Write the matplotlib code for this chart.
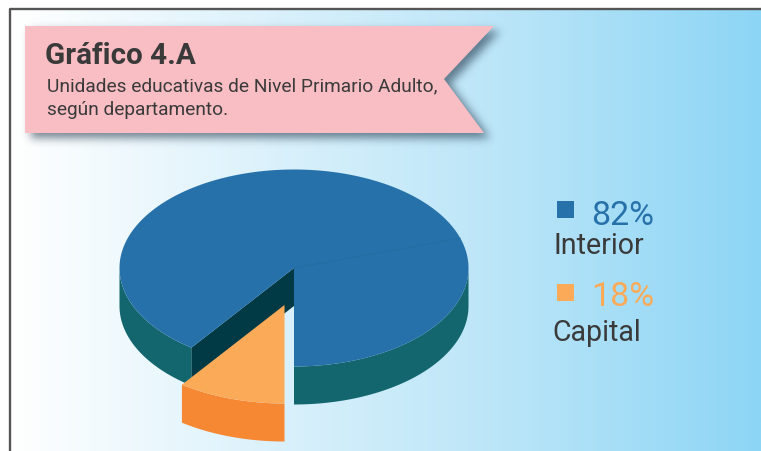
"""
Gráfico 4.A: pseudo 3D pie of primary adult schools, capital vs interior.
"""

import matplotlib

matplotlib.use("Agg")

import matplotlib.pyplot as plt
import numpy as np
from matplotlib.patches import Polygon, Rectangle
from matplotlib.path import Path

plt.rcParams["font.family"] = ["Roboto", "DejaVu Sans"]

# what the chart says
TITLE = "Gráfico 4.A"
SUBTITLE = ["Unidades educativas de Nivel Primario Adulto,", "según departamento."]
labels = ["Interior", "Capital"]
percents = [82, 18]

# how the picture really draws the slices, degrees on the ellipse, from the bottom
slice_spans = [107.6, 216.4, 36.0]

BLUE = "#2771aa"
BLUE_SIDE = "#13666e"
BLUE_INNER = "#013a45"
ORANGE = "#fbaa57"
ORANGE_SIDE = "#f68833"
TEXT = "#3a3a3a"

CX, CY = 294, 269
RX, RY = 174.5, 98.5
DEPTH = 38
EXPLODE = (-9.5, 37)


def rim(t0, t1, dx=0.0, dy=0.0, n=120):
    """Points along the ellipse, angle counter clockwise in degrees."""
    t = np.radians(np.linspace(t0, t1, n))
    return np.column_stack([CX + dx + RX * np.cos(t), CY + dy - RY * np.sin(t)])


def add_shadow(ax, pts, offset=(6, 5), sigma=4.5, color=(0.12, 0.2, 0.28), strength=0.6):
    """Blurred drop shadow: rasterise the polygon and smooth it by hand."""
    x0, x1, y0, y1 = 0, 560, 0, 180
    xx, yy = np.meshgrid(np.arange(x0, x1) + 0.5, np.arange(y0, y1) + 0.5)
    shifted = np.asarray(pts, dtype=float) + offset
    mask = Path(shifted).contains_points(np.column_stack([xx.ravel(), yy.ravel()]))
    mask = mask.reshape(xx.shape).astype(float)

    r = int(3 * sigma)
    kernel = np.exp(-0.5 * (np.arange(-r, r + 1) / sigma) ** 2)
    kernel /= kernel.sum()
    mask = np.apply_along_axis(lambda v: np.convolve(v, kernel, mode="same"), 0, mask)
    mask = np.apply_along_axis(lambda v: np.convolve(v, kernel, mode="same"), 1, mask)

    rgba = np.zeros(mask.shape + (4,))
    rgba[..., :3] = color
    rgba[..., 3] = mask * strength
    ax.imshow(rgba, extent=[x0, x1, y1, y0], aspect="auto", interpolation="bilinear", zorder=2)


def draw_pie(ax):
    start = 270.0
    seam = start + slice_spans[0]
    blue_end = seam + slice_spans[1]
    orange_end = blue_end + slice_spans[2]
    cut = blue_end - 360

    # outer wall of the blue part, only the front half is visible
    for t0, t1 in [(start, 360.0), (180.0, cut)]:
        top = rim(t0, t1)
        low = rim(t1, t0, dy=DEPTH)
        ax.add_patch(Polygon(np.vstack([top, low]), facecolor=BLUE_SIDE, edgecolor="none", zorder=3))

    # inner wall at the cut
    a = rim(cut, cut, n=1)[0]
    ax.add_patch(Polygon([(CX, CY), a, a + (0, DEPTH), (CX, CY + DEPTH)],
                         facecolor=BLUE_INNER, edgecolor="none", zorder=4))

    # blue top, seam line between the two parts
    top = np.vstack([[(CX, CY)], rim(start, blue_end, n=300)])
    ax.add_patch(Polygon(top, facecolor=BLUE, edgecolor="none", zorder=5))
    s = rim(seam, seam, n=1)[0]
    ax.plot([CX, s[0]], [CY, s[1]], color="#236c9f", lw=0.6, zorder=6)

    # orange slice pulled out
    dx, dy = EXPLODE
    top = rim(blue_end, orange_end, dx, dy, n=60)
    low = rim(orange_end, blue_end, dx, dy + DEPTH, n=60)
    ax.add_patch(Polygon(np.vstack([top, low]), facecolor=ORANGE_SIDE, edgecolor="none", zorder=7))
    ax.add_patch(Polygon(np.vstack([[(CX + dx, CY + dy)], top]), facecolor=ORANGE,
                         edgecolor="none", zorder=8))


def main():
    fig = plt.figure(figsize=(7.61, 4.52), dpi=100, facecolor="white")
    ax = fig.add_axes([0, 0, 1, 1])
    ax.axis("off")

    # background gradient, white to sky blue
    xs = np.linspace(0, 1, 400)
    stops = np.array([[255, 255, 255], [186, 229, 248], [141, 213, 245]]) / 255
    grad = np.column_stack([np.interp(xs, [0, 0.66, 1], stops[:, i]) for i in range(3)])
    ax.imshow(grad[None, :, :], extent=[10, 761, 452, 11], aspect="auto", zorder=0)
    ax.plot([9.5, 9.5, 761], [452, 10.3, 10.3], color="#555555", lw=1.7, zorder=1)

    # ribbon with the title
    ribbon = [(25, 27), (494, 27), (444, 80), (484, 134), (25, 134)]
    add_shadow(ax, ribbon)
    ax.add_patch(Polygon(ribbon, facecolor="#f9bec3", edgecolor="none", zorder=3))
    ax.text(45, 56, TITLE, fontsize=21.3, fontweight="bold", color=TEXT, va="center", zorder=4)
    for text, y in zip(SUBTITLE, [86, 110]):
        ax.text(47, y, text, fontsize=13.76, color=TEXT, va="center", zorder=4)

    draw_pie(ax)

    # legend
    colors = [BLUE, ORANGE]
    square_y = [210, 293]
    percent_y = [216, 297]
    label_x = [554, 552]
    label_y = [246, 333]
    for i, color in enumerate(colors):
        ax.add_patch(Rectangle((557, square_y[i] - 8.5), 17, 17, facecolor=color, edgecolor="none", zorder=3))
        ax.text(591, percent_y[i], f"{percents[i]}%", fontsize=24.5, color=color, va="center", zorder=3)
        ax.text(label_x[i], label_y[i], labels[i], fontsize=20.6, color=TEXT, va="center", zorder=3)

    ax.set_xlim(0, 761)
    ax.set_ylim(452, 0)
    fig.savefig("out.png", dpi=100)


if __name__ == "__main__":
    main()
